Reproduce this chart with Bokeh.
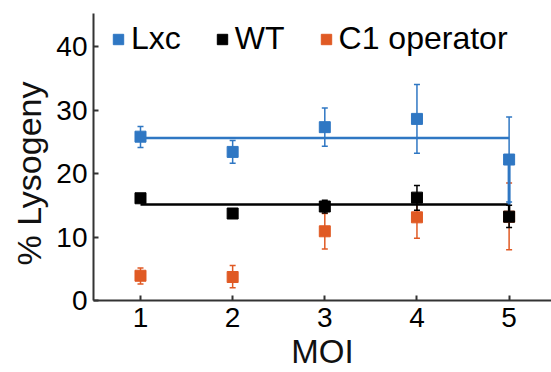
from bokeh.plotting import figure
from bokeh.models import ColumnDataSource, Whisker, TeeHead, Range1d, Legend, LegendItem, FixedTicker, Title
from bokeh.embed import file_html
from bokeh.resources import INLINE

moi = [1, 2, 3, 4, 5]

lxc_y = [25.8, 23.4, 27.3, 28.6, 22.2]
lxc_hi = [27.4, 25.2, 30.3, 34.0, 28.9]
lxc_lo = [24.1, 21.6, 24.3, 23.2, 15.5]
lxc_fit = 25.6

wt_y = [16.1, 13.7, 14.8, 16.2, 13.2]
wt_hi = [16.6, 14.2, 15.8, 18.1, 15.0]
wt_lo = [15.6, 13.2, 13.8, 14.2, 11.5]
wt_fit = 15.1

c1_y = [3.9, 3.7, 10.9, 13.1, 13.2]
c1_hi = [5.1, 5.5, 13.7, 16.4, 18.5]
c1_lo = [2.6, 2.0, 8.1, 9.8, 8.0]

y_ticks = [0, 10, 20, 30, 40]
series_names = ["Lxc", "WT", "C1 operator"]
x_title = "MOI"
y_title = "% Lysogeny"

BLUE = "#2F77C3"
BLACK = "#000000"
ORANGE = "#E05A24"
FONT = "Liberation Sans"

p = figure(width=551, height=372, output_backend="svg", toolbar_location=None,
           x_range=Range1d(0.49, 5.46), y_range=Range1d(0, 45.2),
           min_border_left=93, min_border_right=0, min_border_top=13, min_border_bottom=72)
p.outline_line_color = None
p.xgrid.visible = False
p.ygrid.visible = False
p.background_fill_color = "white"

for ax in (p.xaxis[0], p.yaxis[0]):
    ax.axis_line_width = 2
    ax.axis_line_color = "#333333"
    ax.major_tick_line_color = "#333333"
    ax.major_tick_line_width = 2
    ax.major_tick_in = 5
    ax.major_tick_out = 0
    ax.minor_tick_line_color = None
    ax.major_label_text_font = FONT
    ax.major_label_text_font_size = "28px"
    ax.major_label_text_color = "black"
    ax.axis_label_text_font = FONT
    ax.axis_label_text_font_size = "33px"
    ax.axis_label_text_font_style = "normal"
    ax.axis_label_text_color = "#111111"

p.xaxis.ticker = FixedTicker(ticks=moi)
p.yaxis.ticker = FixedTicker(ticks=y_ticks)
p.xaxis.axis_label = x_title
p.xaxis.major_label_standoff = 7
p.xaxis.axis_label_standoff = 3
p.yaxis.major_label_standoff = 6

ytitle = Title(text=y_title, align="left", offset=35,
               text_font=FONT, text_font_size="34px", text_font_style="normal",
               text_color="#111111", standoff=12, text_line_height=0.9)
p.add_layout(ytitle, "left")

def add_series(ys, hi, lo, color):
    src = ColumnDataSource(dict(x=moi, y=ys, hi=hi, lo=lo))
    w = Whisker(source=src, base="x", upper="hi", lower="lo", dimension="height",
                line_color=color, line_width=1.5,
                upper_head=TeeHead(size=6, line_color=color, line_width=1.5),
                lower_head=TeeHead(size=6, line_color=color, line_width=1.5))
    p.add_layout(w)
    r = p.scatter("x", "y", source=src, marker="square", size=11,
                  fill_color=color, line_color=color)
    return r

r_c1 = add_series(c1_y, c1_hi, c1_lo, ORANGE)
r_wt = add_series(wt_y, wt_hi, wt_lo, BLACK)
p.line([moi[0], moi[-1], moi[-1]], [wt_fit, wt_fit, wt_y[-1]], line_color=BLACK, line_width=2.5)
r_lxc = add_series(lxc_y, lxc_hi, lxc_lo, BLUE)
p.line([moi[0], moi[-1]], [lxc_fit, lxc_fit], line_color=BLUE, line_width=2.5)
p.line([moi[-1], moi[-1]], [lxc_y[-1], wt_fit], line_color=BLUE, line_width=3)

# legend proxies
leg_items = []
for name, col in zip(series_names, [BLUE, BLACK, ORANGE]):
    rr = p.scatter([-10], [-10], marker="square", size=10, fill_color=col, line_color=col)
    leg_items.append(LegendItem(label=name, renderers=[rr]))

legend = Legend(items=leg_items, orientation="horizontal", location="top_left",
                border_line_color=None, background_fill_alpha=0,
                label_text_font=FONT, label_text_font_size="32px",
                label_text_color="black",
                glyph_width=26, glyph_height=26, label_standoff=-5,
                spacing=28, margin=0, padding=0, label_height=30)
legend.location = (12, 243)
p.add_layout(legend, "center")

open("out.html", "w").write(file_html(p, INLINE))
